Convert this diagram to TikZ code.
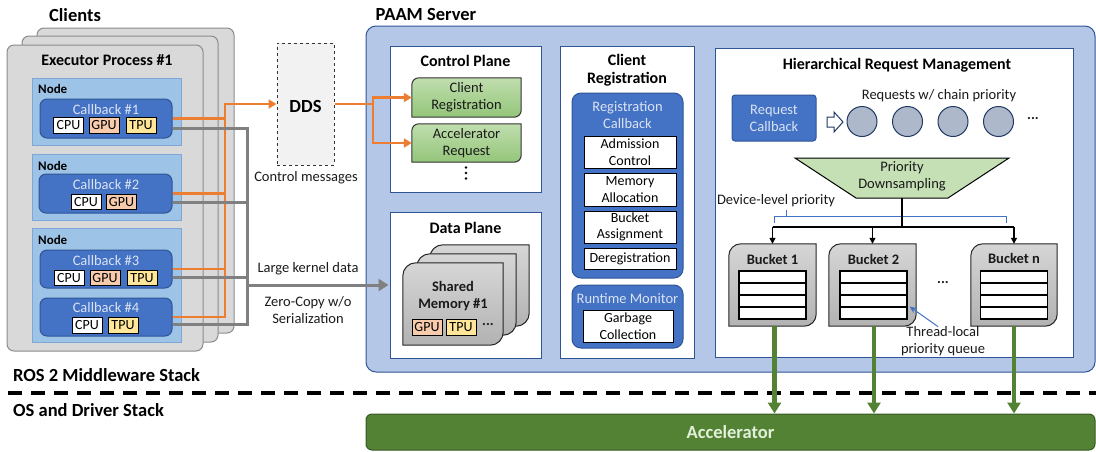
\documentclass[tikz,border=0pt]{standalone}
\usepackage{fontspec}
\setmainfont{Carlito}
\usetikzlibrary{arrows.meta,calc}
\definecolor{exfill}{HTML}{D9D9D9}
\definecolor{exborder}{HTML}{8C8C8C}
\definecolor{nodeblue}{HTML}{9DC3E6}
\definecolor{nodeborder}{HTML}{7FA7D6}
\definecolor{cbblue}{HTML}{4472C4}
\definecolor{cbborder}{HTML}{2F5597}
\definecolor{cbtext}{HTML}{DAE3F3}
\definecolor{gpuc}{HTML}{F8CBAD}
\definecolor{tpuc}{HTML}{FFE699}
\definecolor{oline}{HTML}{ED7D31}
\definecolor{gline}{HTML}{808080}
\definecolor{ddsfill}{HTML}{F2F2F2}
\definecolor{paamfill}{HTML}{B4C7E7}
\definecolor{greentop}{HTML}{C0DEAE}
\definecolor{greenbot}{HTML}{94C57A}
\definecolor{circfill}{HTML}{ADB9CA}
\definecolor{circborder}{HTML}{203864}
\definecolor{trapfill}{HTML}{C5E0B4}
\definecolor{accfill}{HTML}{548235}
\definecolor{accborder}{HTML}{385723}
\definecolor{acctext}{HTML}{E2F0D9}
\definecolor{graytop}{HTML}{D6D6D6}
\definecolor{graybot}{HTML}{B2B2B2}
\definecolor{txt}{HTML}{1A1A1A}
\newcommand\dshape[3]{%
  \path[#1] (#2.south west) -- ($(#2.north west)+(0,#3)$)
    .. controls ($(#2.north west)+(0,0.448*#3)$) and ($(#2.north west)+(0.448*#3,0)$) .. ($(#2.north west)+(#3,0)$)
    -- (#2.north east) -- ($(#2.south east)+(0,-#3)$)
    .. controls ($(#2.south east)+(0,-0.448*#3)$) and ($(#2.south east)+(-0.448*#3,0)$) .. ($(#2.south east)+(-#3,0)$)
    -- cycle;}
\tikzset{
  base/.style={font=\fontsize{14.5}{17}\selectfont, align=center, inner sep=0pt, text=txt},
  bigtitle/.style={font=\bfseries\fontsize{18.5}{21}\selectfont, inner sep=0pt},
  sectitle/.style={font=\bfseries\fontsize{16}{18.5}\selectfont, align=center, inner sep=0pt},
  nodelbl/.style={font=\bfseries\fontsize{13}{15}\selectfont, inner sep=0pt, anchor=west},
  box/.style={inner sep=0pt},
  exbox/.style={box, draw=exborder, fill=exfill, rounded corners=7pt, line width=1pt},
  nodebox/.style={box, draw=nodeborder, fill=nodeblue, line width=1pt},
  cbbox/.style={box, draw=cbborder, fill=cbblue, rounded corners=7pt, line width=1pt},
  cblbl/.style={font=\fontsize{14.5}{17}\selectfont, text=cbtext, inner sep=0pt, align=center},
  chip/.style={draw=black, line width=1pt, minimum width=30, minimum height=15.5, inner sep=0pt, font=\fontsize{14}{16}\selectfont},
  cpu/.style={chip, fill=white},
  gpu/.style={chip, fill=gpuc},
  tpu/.style={chip, fill=tpuc},
  owire/.style={draw=oline, line width=2.6pt},
  oarrow/.style={owire, -{Triangle[length=8pt,width=9pt]}},
  gwire/.style={draw=gline, line width=3pt},
  garrow/.style={gwire, -{Triangle[length=10pt,width=12pt]}},
  ddsbox/.style={box, draw=black!80, dashed, fill=ddsfill, line width=1pt},
  paambox/.style={box, draw=cbborder, fill=paamfill, rounded corners=10pt, line width=1pt},
  panel/.style={box, draw=cbborder, fill=white, line width=1pt},
  greenshape/.style={draw=black!80, line width=1pt, top color=greentop, bottom color=greenbot},
  grayshape/.style={draw=black!85, line width=1pt, top color=graytop, bottom color=graybot},
  wbox/.style={draw=black, fill=white, line width=1pt, inner sep=0pt, minimum width=92, font=\fontsize{14}{16.5}\selectfont, align=center},
  qcell/.style={draw=black, fill=white, line width=1.1pt, minimum width=67, minimum height=12, inner sep=0pt},
  circ/.style={circle, draw=circborder, fill=circfill, line width=1pt, minimum size=30, inner sep=0pt},
  tree/.style={draw=black, line width=1.6pt},
  treearrow/.style={draw=black, line width=1.3pt, -{Triangle[length=6pt,width=6pt]}},
  greenarrow/.style={draw=accfill, line width=4.5pt, -{Triangle[length=11pt,width=13pt]}},
  bluearrow/.style={draw=cbblue, line width=1pt, -{Stealth[length=7pt,width=6pt]}},
}
\begin{document}
\begin{tikzpicture}[x=1pt,y=-1pt]
\useasboundingbox (0,0) rectangle (1096,451);

% ---------------- Clients ----------------
\node[bigtitle] (clients) at (75,15) {Clients};
\node[exbox, minimum width=197, minimum height=305] (ex3) at (135.5,180.5) {};
\node[exbox, minimum width=196, minimum height=306] (ex2) at (120,189) {};
\node[exbox, minimum width=196, minimum height=306] (ex1) at (105,198) {};
\node[sectitle] (extitle) at (107,60) {Executor Process \#1};

\node[nodebox, minimum width=149, minimum height=67] (n1) at (106.5,111.5) {};
\node[nodebox, minimum width=149, minimum height=66] (n2) at (106.5,187) {};
\node[nodebox, minimum width=149, minimum height=114] (n3) at (106.5,285) {};
\node[nodelbl] (n1l) at (38,89) {Node};
\node[nodelbl] (n2l) at (38,166) {Node};
\node[nodelbl] (n3l) at (38,240) {Node};

\node[cbbox, minimum width=132, minimum height=39] (cb1) at (106,118.5) {};
\node[cbbox, minimum width=133, minimum height=39] (cb2) at (105.5,193.5) {};
\node[cbbox, minimum width=132, minimum height=38] (cb3) at (106,269) {};
\node[cbbox, minimum width=132, minimum height=38] (cb4) at (106,317) {};
\node[cblbl] (cb1l) at (106,110) {Callback \#1};
\node[cblbl] (cb2l) at (106,185) {Callback \#2};
\node[cblbl] (cb3l) at (106,261) {Callback \#3};
\node[cblbl] (cb4l) at (106,307.5) {Callback \#4};
\node[cpu] (c1a) at (68.5,125.5) {CPU};
\node[gpu] (c1b) at (104,125.5) {GPU};
\node[tpu] (c1c) at (141,125.5) {TPU};
\node[cpu] (c2a) at (86,202) {CPU};
\node[gpu] (c2b) at (121.5,202) {GPU};
\node[cpu] (c3a) at (69,278) {CPU};
\node[gpu] (c3b) at (105,278) {GPU};
\node[tpu] (c3c) at (142,278) {TPU};
\node[cpu] (c4a) at (87,325.5) {CPU};
\node[tpu] (c4b) at (123,325.5) {TPU};

% ---------------- DDS ----------------
\node[ddsbox, minimum width=57, minimum height=122] (dds) at (305.5,104) {};
\node[bigtitle] (ddsl) at (305.5,106) {DDS};
\node[base] (ctrlmsg) at (306,178) {Control messages};
\node[base] (largek) at (308,269) {Large kernel data};
\node[base] (zerocp) at (308,310.5) {Zero-Copy w/o\\Serialization};

% ---------------- PAAM server ----------------
\node[bigtitle] (paaml) at (426,14) {PAAM Server};
\node[paambox, minimum width=729, minimum height=346] (paam) at (730.5,199) {};

% Control plane
\node[panel, minimum width=151, minimum height=146] (cp) at (465.5,119) {};
\node[sectitle] (cpl) at (465.5,61) {Control Plane};
\node[box, minimum width=109, minimum height=39] (creg) at (466.5,97.5) {};
\node[box, minimum width=109, minimum height=38] (areq) at (466.5,143) {};
\dshape{greenshape}{creg}{7}
\dshape{greenshape}{areq}{7}
\node[base] (cregl) at (466.5,97.5) {Client\\Registration};
\node[base] (areql) at (466.5,143) {Accelerator\\Request};
\fill[black] (466,167.5) circle (1.3) (466,173) circle (1.3) (466,178.5) circle (1.3);

% Data plane
\node[panel, minimum width=151, minimum height=146] (dp) at (465.5,285) {};
\node[sectitle] (dpl) at (465.5,228) {Data Plane};
\node[box, minimum width=99, minimum height=81] (sm3) at (479.5,285.5) {};
\node[box, minimum width=99, minimum height=81] (sm2) at (466.5,294.5) {};
\node[box, minimum width=100, minimum height=82] (sm1) at (453,304) {};
\dshape{grayshape}{sm3}{13}
\dshape{grayshape}{sm2}{13}
\dshape{grayshape}{sm1}{13}
\node[base, font=\bfseries\fontsize{14.5}{17.5}\selectfont] (sml) at (453,296) {Shared\\Memory \#1};
\node[gpu, minimum height=16.5] (smg) at (427,327.5) {GPU};
\node[tpu, minimum height=16.5] (smt) at (461,327.5) {TPU};
\node[base, font=\bfseries\fontsize{14.5}{17}\selectfont] (smd) at (488,325) {...};

% Client registration column
\node[panel, minimum width=134, minimum height=312] (crc) at (627,202) {};
\node[sectitle] (crcl) at (627,70) {Client\\Registration};
\node[cbbox, rounded corners=9pt, minimum width=111, minimum height=185] (rcb) at (627.5,185.5) {};
\node[cblbl, font=\fontsize{14.5}{16.5}\selectfont] (rcbl) at (627.5,115) {Registration\\Callback};
\node[wbox, minimum height=32] (adm) at (630,152) {Admission\\Control};
\node[wbox, minimum height=33] (mem) at (630,189.5) {Memory\\Allocation};
\node[wbox, minimum height=32] (bkt) at (630,227) {Bucket\\Assignment};
\node[wbox, minimum height=21] (dereg) at (630,258.5) {Deregistration};
\node[cbbox, rounded corners=9pt, minimum width=111, minimum height=63] (rtm) at (627.5,316.5) {};
\node[cblbl] (rtml) at (627.5,299) {Runtime Monitor};
\node[wbox, minimum width=90, minimum height=32] (gc) at (628,326) {Garbage\\Collection};

% Hierarchical request management
\node[panel, minimum width=358, minimum height=309] (hrm) at (894,202.5) {};
\node[sectitle] (hrml) at (897,65) {Hierarchical Request Management};
\node[cbbox, rounded corners=3pt, minimum width=84, minimum height=46] (reqcb) at (774,118) {};
\node[cblbl] (reqcbl) at (774,118) {Request\\Callback};
\draw[draw=circborder, fill=white, line width=1pt] (827,117) -- (834,117) -- (834,112) -- (843,122) -- (834,132) -- (834,127) -- (827,127) -- cycle;
\node[circ] (r1) at (862,121.5) {};
\node[circ] (r2) at (907.5,121.5) {};
\node[circ] (r3) at (953,121.5) {};
\node[circ] (r4) at (998.5,121.5) {};
\node[base, font=\bfseries\fontsize{14.5}{17}\selectfont] (rdots) at (1033,119) {...};
\node[base] (reqpl) at (939,96) {Requests w/ chain priority};

\draw[draw=black, fill=trapfill, line width=1pt] (795,158) -- (1009,158) -- (948,198) -- (856,198) -- cycle;
\node[base] (pds) at (902,176) {Priority\\Downsampling};
\node[base] (devl) at (776,201) {Device-level priority};
\draw[draw=cbblue, line width=1pt] (774,223) -- (774,216) -- (1006,216) -- (1006,223) (786,216) -- (786,210);

\node[box, minimum width=87, minimum height=82] (b1) at (772.5,285) {};
\node[box, minimum width=87, minimum height=82] (b2) at (872.5,285) {};
\node[box, minimum width=86, minimum height=82] (bn) at (1014,285) {};
\dshape{grayshape}{b1}{12}
\dshape{grayshape}{b2}{12}
\dshape{grayshape}{bn}{12}
\node[base, font=\bfseries\fontsize{14.5}{17}\selectfont] (b1l) at (772.5,259) {Bucket 1};
\node[base, font=\bfseries\fontsize{14.5}{17}\selectfont] (b2l) at (873.5,259) {Bucket 2};
\node[base, font=\bfseries\fontsize{14.5}{17}\selectfont] (bnl) at (1014,258) {Bucket n};
\foreach \r/\yy in {1/277,2/289,3/301,4/313}{
  \node[qcell] (b1q\r) at (772.5,\yy) {};
  \node[qcell] (b2q\r) at (873.5,\yy) {};
  \node[qcell] (bnq\r) at (1014,\yy) {};
}
\node[base, font=\bfseries\fontsize{14.5}{17}\selectfont] (bdots) at (943,283) {...};
\node[base] (tlq) at (943,341.5) {Thread-local\\priority queue};
\draw[bluearrow] ($(tlq.north)+(-5,0)$) -- ($(b2q3.south east)+(2,-1)$);

% tree
\coordinate (pdsb) at (902,198);
\coordinate (tj) at (902,227);
\draw[tree] (pdsb) -- (tj);
\draw[tree] (b1.north |- tj) -- (bn.north |- tj);
\draw[treearrow] (b1.north |- tj) -- (b1.north);
\draw[treearrow] (b2.north |- tj) -- (b2.north);
\draw[treearrow] (bn.north |- tj) -- (bn.north);

% ---------------- Wires ----------------
\coordinate (obus) at (225,104);
\coordinate (gbus) at (247,128);
\draw[owire] (cb1.east) -- (cb1.east -| obus);
\draw[owire] (cb2.east) -- (cb2.east -| obus);
\draw[owire] (cb3.east) -- (cb3.east -| obus);
\draw[oarrow] (cb4.east) -| (obus) -- (obus -| dds.west);
\draw[gwire] ($(cb1.east)+(0,9.5)$) -| ($(cb4.east -| gbus)+(0,7.5)$) -- ($(cb4.east)+(0,7.5)$);
\draw[gwire] ($(cb2.east)+(0,8.5)$) -- ($(cb2.east -| gbus)+(0,8.5)$);
\draw[gwire] ($(cb3.east)+(0,8)$) -- ($(cb3.east -| gbus)+(0,8)$);
\draw[garrow] (dp.west -| gbus) -- ($(dp.west)+(-1,0)$);

\coordinate (osplit) at (373,104);
\draw[owire] (dds.east |- osplit) -- (osplit);
\draw[oarrow] (osplit) |- (creg.west);
\draw[oarrow] (osplit) |- (areq.west);

% ---------------- Stacks ----------------
\node[bigtitle, anchor=west] (ros) at (13,375) {ROS 2 Middleware Stack};
\node[bigtitle, anchor=west] (osd) at (13,410) {OS and Driver Stack};
\coordinate (dl) at (8,393);
\coordinate (dr) at (1096,393);
\draw[black, line width=3.2pt, dash pattern=on 14pt off 9pt] (dl) -- (dr);

\node[box, draw=accborder, fill=accfill, rounded corners=6pt, line width=1pt, minimum width=729, minimum height=36, text=acctext, font=\bfseries\fontsize{18.5}{21}\selectfont] (acc) at (730.5,432) {Accelerator};

\draw[greenarrow] ($(b1.south)+(2,0)$) -- ($(b1.south |- acc.north)+(2,0)$);
\draw[greenarrow] ($(b2.south)+(1.5,0)$) -- ($(b2.south |- acc.north)+(1.5,0)$);
\draw[greenarrow] (bn.south) -- (bn.south |- acc.north);
\end{tikzpicture}
\end{document}
